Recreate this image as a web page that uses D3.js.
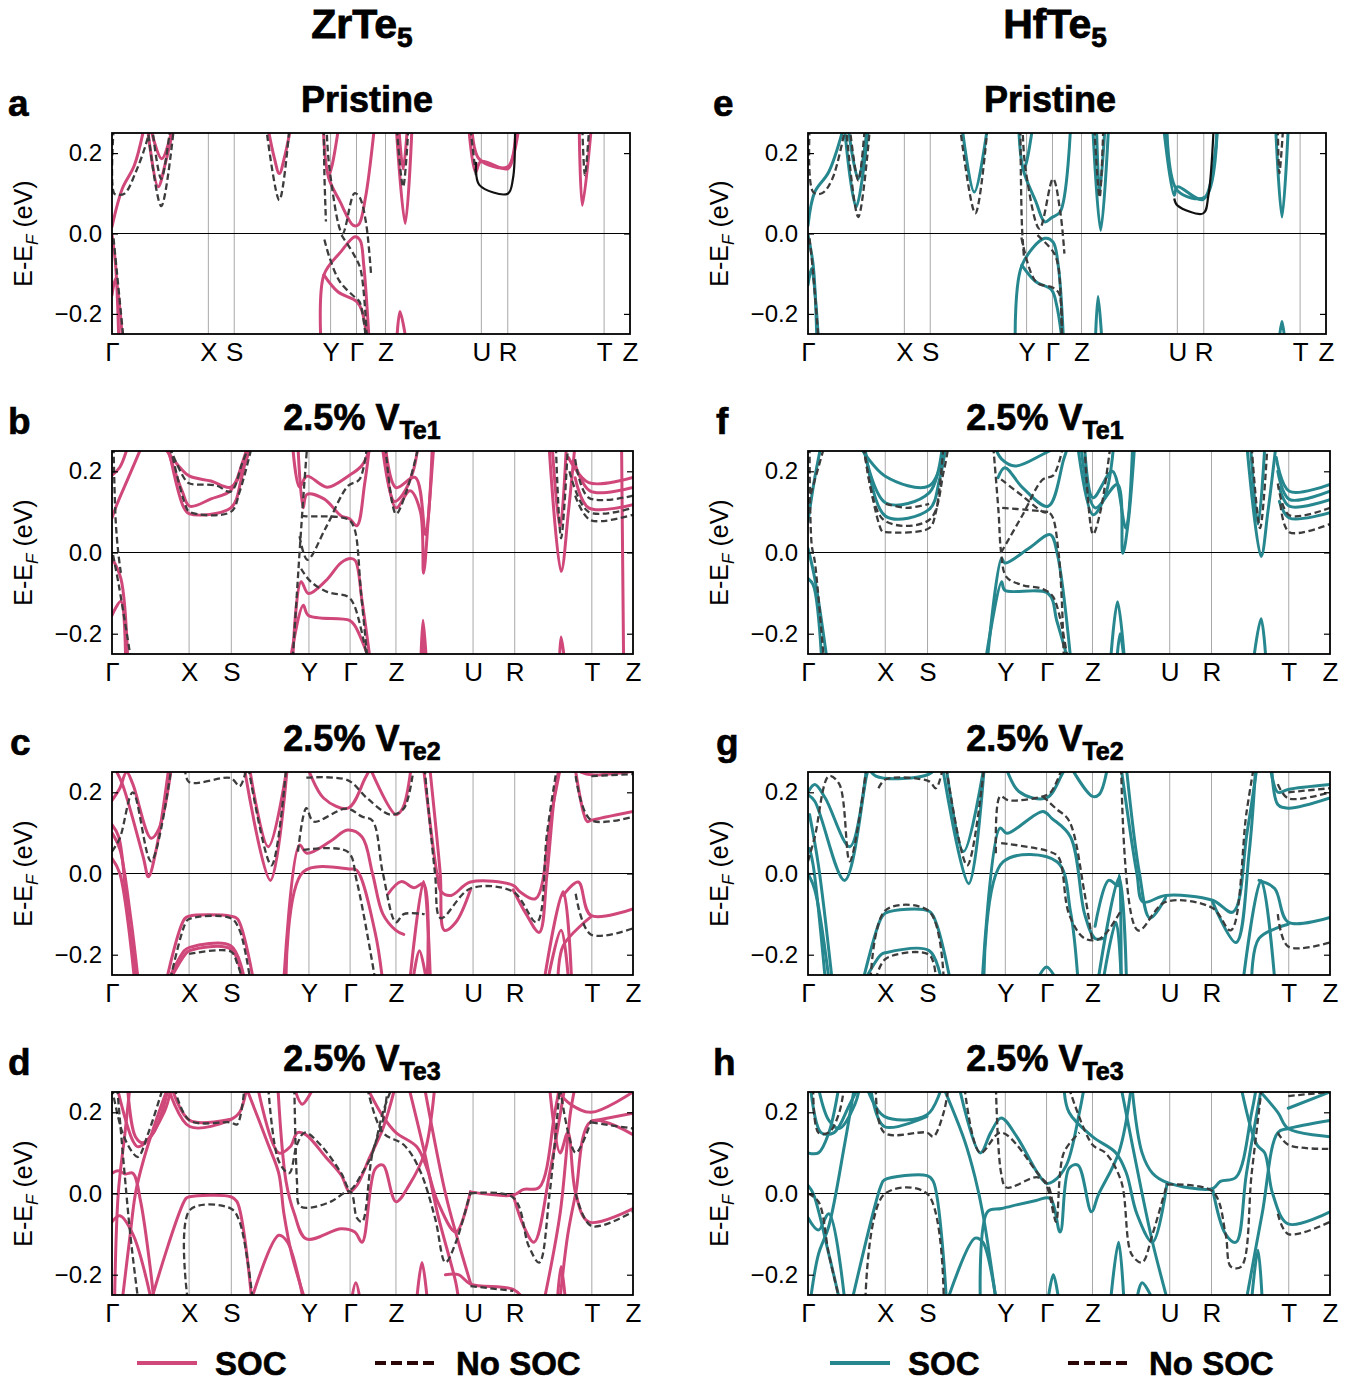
<!DOCTYPE html>
<html><head><meta charset="utf-8">
<script src="https://cdn.jsdelivr.net/npm/d3@7"></script>
<style>body{margin:0;background:#fff}svg{display:block}text{font-family:"Liberation Sans",Arial,Helvetica,sans-serif}</style>
</head><body><svg id="c" width="1366" height="1384"></svg>
<script>
// ---------- shared axis data ----------
const kLabels = ["Γ","X","S","Y","Γ","Z","U","R","T","Z"];
const kTicksPristine = [0,0.186,0.236,0.422,0.472,0.528,0.713,0.764,0.95,1];
const kTicksVac = [0,0.148,0.229,0.378,0.457,0.545,0.693,0.773,0.921,1];
const yTicks = [-0.2,0,0.2];
const eRange = [-0.25,0.25];

// ---------- ZrTe5 pristine (a) ----------
const zrPristineSOC = [
 [[0,0.017],[0.02,0.112],[0.043,0.169],[0.063,0.27]],
 [[0.068,0.27],[0.089,0.116],[0.104,0.18],[0.12,0.27]],
 [[0.075,0.26],[0.096,0.186],[0.118,0.27]],
 [[0.3,0.27],[0.313,0.19],[0.323,0.149],[0.333,0.19],[0.346,0.27]],
 [[0.408,0.26],[0.418,0.14],[0.44,0.08],[0.466,0.02],[0.476,0.022],[0.489,0.087],[0.507,0.27]],
 [[0.437,0.26],[0.425,0.17],[0.418,0.14]],
 [[0.403,-0.26],[0.409,-0.103],[0.442,-0.045],[0.469,-0.008],[0.479,-0.017],[0.486,-0.079],[0.496,-0.26]],
 [[0.409,-0.103],[0.436,-0.145],[0.472,-0.169],[0.482,-0.19],[0.492,-0.26]],
 [[0.55,-0.26],[0.556,-0.194],[0.567,-0.26]],
 [[0.549,0.26],[0.566,0.025],[0.579,0.26]],
 [[0.554,0.26],[0.562,0.16],[0.57,0.26]],
 [[0.689,0.26],[0.702,0.153],[0.712,0.179],[0.764,0.161],[0.775,0.194],[0.785,0.26]],
 [[0.695,0.26],[0.709,0.185],[0.764,0.166],[0.78,0.26]],
 [[0.902,0.26],[0.908,0.07],[0.925,0.26]],
 [[0,-0.004],[0.007,-0.079],[0.013,-0.26]],
 [[0,-0.153],[0.007,-0.112],[0.02,-0.26]]
];
const zrPristineNoSOC = [
 [[0.003,0.26],[0.004,0.1],[0.012,0.096],[0.025,0.1],[0.045,0.15],[0.065,0.22],[0.075,0.27]],
 [[0.068,0.27],[0.095,0.068],[0.12,0.27]],
 [[0.077,0.27],[0.095,0.136],[0.113,0.27]],
 [[0.003,-0.012],[0.01,-0.103],[0.022,-0.26]],
 [[0.297,0.27],[0.323,0.083],[0.343,0.27]],
 [[0.409,0.26],[0.41,0.15],[0.413,0.03]],
 [[0.41,-0.015],[0.42,-0.06],[0.44,-0.12],[0.47,-0.16],[0.478,-0.17],[0.49,-0.26]],
 [[0.414,0.27],[0.42,0.16],[0.445,0.0],[0.468,0.1],[0.478,0.09],[0.49,0.03],[0.5,-0.1]],
 [[0.443,-0.004],[0.468,-0.055],[0.48,-0.09],[0.492,-0.26]],
 [[0.55,0.26],[0.562,0.116],[0.572,0.26]],
 [[0.908,0.26],[0.913,0.145],[0.921,0.26]],
 [[0.692,0.26],[0.703,0.14]]
];
const zrPristineSolid = [
 [[0.703,0.178],[0.709,0.121],[0.764,0.099],[0.774,0.136],[0.778,0.26]]
];

// ---------- HfTe5 pristine (e) ----------
const hfPristineSOC = [
 [[0,0.02],[0.013,0.103],[0.04,0.153],[0.07,0.27]],
 [[0.07,0.27],[0.093,0.066],[0.117,0.27]],
 [[0.077,0.27],[0.097,0.136],[0.115,0.27]],
 [[0.297,0.27],[0.321,0.103],[0.347,0.27]],
 [[0.407,0.26],[0.415,0.161],[0.44,0.079],[0.457,0.029],[0.47,0.039],[0.487,0.054],[0.507,0.27]],
 [[0.433,0.26],[0.42,0.17],[0.415,0.16]],
 [[0.4,-0.26],[0.413,-0.079],[0.457,-0.012],[0.473,-0.021],[0.483,-0.079],[0.493,-0.26]],
 [[0.413,-0.079],[0.44,-0.12],[0.47,-0.14],[0.48,-0.178],[0.49,-0.26]],
 [[0.555,-0.26],[0.56,-0.157],[0.567,-0.26]],
 [[0.55,0.26],[0.565,0.008],[0.58,0.26]],
 [[0.557,0.26],[0.563,0.103],[0.573,0.26]],
 [[0.687,0.26],[0.707,0.095],[0.713,0.116],[0.763,0.085],[0.79,0.26]],
 [[0.693,0.26],[0.713,0.107],[0.767,0.091],[0.79,0.26]],
 [[0.903,0.26],[0.915,0.041],[0.927,0.26]],
 [[0.91,-0.26],[0.915,-0.219],[0.92,-0.26]],
 [[0,-0.004],[0.01,-0.079],[0.017,-0.26]],
 [[0,-0.128],[0.007,-0.087],[0.02,-0.26]]
];
const hfPristineNoSOC = [
 [[0.003,0.26],[0.01,0.103],[0.027,0.1],[0.047,0.136],[0.073,0.27]],
 [[0.073,0.27],[0.097,0.041],[0.12,0.27]],
 [[0.08,0.27],[0.097,0.132],[0.11,0.27]],
 [[0.293,0.27],[0.323,0.05],[0.347,0.27]],
 [[0.41,0.26],[0.413,0.02],[0.417,-0.06]],
 [[0.412,-0.01],[0.44,-0.12],[0.473,-0.135],[0.485,-0.15],[0.49,-0.26]],
 [[0.414,0.27],[0.42,0.16],[0.447,0.012],[0.473,0.136],[0.487,0.054],[0.495,-0.05]],
 [[0.443,-0.004],[0.473,-0.045],[0.483,-0.08],[0.49,-0.26]],
 [[0.553,0.26],[0.563,0.09],[0.57,0.26]],
 [[0.907,0.26],[0.91,0.15],[0.917,0.26]],
 [[0.003,-0.012],[0.01,-0.1],[0.02,-0.26]]
];
const hfPristineSolid = [
 [[0.707,0.087],[0.713,0.07],[0.763,0.05],[0.773,0.095],[0.783,0.26]]
];

// ---------- ZrTe5 V_Te1 (b) ----------
const zrTe1SOC = [
 [[0,0.085],[0.01,0.12],[0.03,0.18],[0.06,0.27]],
 [[0,0.19],[0.015,0.21],[0.03,0.26]],
 [[0.1,0.26],[0.13,0.21],[0.149,0.188],[0.19,0.176],[0.228,0.161],[0.255,0.22],[0.268,0.27]],
 [[0.105,0.26],[0.135,0.15],[0.149,0.114],[0.19,0.132],[0.228,0.153],[0.25,0.22],[0.262,0.27]],
 [[0.108,0.26],[0.138,0.11],[0.149,0.095],[0.228,0.11],[0.248,0.18],[0.262,0.27]],
 [[0.347,0.26],[0.36,0.161],[0.374,0.188],[0.413,0.161],[0.453,0.188],[0.48,0.215],[0.499,0.27]],
 [[0.357,0.26],[0.367,0.11],[0.374,0.143],[0.407,0.132],[0.44,0.09],[0.456,0.083],[0.47,0.066],[0.485,0.17],[0.495,0.27]],
 [[0.347,-0.26],[0.363,-0.072],[0.377,-0.101],[0.41,-0.07],[0.44,-0.025],[0.458,-0.015],[0.467,-0.02],[0.48,-0.12],[0.495,-0.26]],
 [[0.343,-0.26],[0.367,-0.13],[0.377,-0.155],[0.456,-0.167],[0.466,-0.18],[0.493,-0.26]],
 [[0.519,0.26],[0.542,0.126],[0.558,0.143],[0.578,0.2],[0.588,0.27]],
 [[0.522,0.26],[0.545,0.11],[0.572,0.152],[0.592,0.1],[0.598,-0.051],[0.608,0.1],[0.618,0.27]],
 [[0.525,0.26],[0.545,0.16],[0.582,0.185],[0.602,0.044],[0.615,0.27]],
 [[0.593,-0.26],[0.597,-0.167],[0.603,-0.26]],
 [[0.596,-0.26],[0.598,-0.21],[0.601,-0.26]],
 [[0.839,0.26],[0.862,-0.047],[0.876,0.1],[0.889,0.27]],
 [[0.845,0.26],[0.86,0.06],[0.872,0.26]],
 [[0.859,-0.26],[0.862,-0.208],[0.868,-0.26]],
 [[0.876,0.234],[0.915,0.172],[1,0.185]],
 [[0.889,0.217],[0.918,0.151],[1,0.16]],
 [[0.889,0.184],[0.915,0.11],[1,0.118]],
 [[0.978,0.27],[0.982,-0.27]],
 [[0,-0.014],[0.017,-0.064],[0.03,-0.26]],
 [[0,-0.155],[0.017,-0.12],[0.026,-0.26]]
];
const zrTe1NoSOC = [
 [[0.002,-0.006],[0.013,-0.08],[0.036,-0.26]],
 [[0.003,0.26],[0.007,0.08],[0.012,0.0],[0.017,-0.05]],
 [[0.11,0.26],[0.14,0.18],[0.149,0.17],[0.2,0.165],[0.228,0.15],[0.25,0.22],[0.265,0.27]],
 [[0.112,0.26],[0.14,0.12],[0.149,0.1],[0.228,0.1],[0.245,0.15],[0.27,0.27]],
 [[0.347,-0.26],[0.36,0.0],[0.368,0.15],[0.375,0.27]],
 [[0.36,0.04],[0.375,-0.018],[0.41,0.06],[0.453,0.164],[0.475,0.18],[0.49,0.27]],
 [[0.363,0.09],[0.375,0.089],[0.453,0.082],[0.465,0.06],[0.478,-0.1],[0.49,-0.26]],
 [[0.363,-0.04],[0.38,-0.07],[0.413,-0.097],[0.453,-0.109],[0.465,-0.13],[0.49,-0.26]],
 [[0.525,0.26],[0.545,0.095],[0.565,0.15],[0.59,0.27]],
 [[0.852,0.26],[0.862,0.035],[0.875,0.26]],
 [[0.878,0.2],[0.915,0.1],[1,0.11]],
 [[0.889,0.14],[0.918,0.08],[1,0.093]],
 [[0.889,0.23],[0.915,0.135],[1,0.14]]
];

// ---------- HfTe5 V_Te1 (f) ----------
const hfTe1SOC = [
 [[0,0.077],[0.013,0.184],[0.026,0.27]],
 [[0.1,0.26],[0.148,0.188],[0.232,0.164],[0.265,0.27]],
 [[0.106,0.26],[0.149,0.122],[0.232,0.147],[0.258,0.27]],
 [[0.109,0.26],[0.149,0.089],[0.232,0.106],[0.252,0.18],[0.265,0.27]],
 [[0.358,0.26],[0.371,0.23],[0.397,0.213],[0.45,0.242],[0.49,0.27]],
 [[0.364,0.184],[0.377,0.209],[0.411,0.16],[0.46,0.114],[0.49,0.23],[0.5,0.27]],
 [[0.344,-0.26],[0.371,-0.014],[0.377,-0.026],[0.424,0.011],[0.464,0.044],[0.477,0.0],[0.503,-0.26]],
 [[0.341,-0.26],[0.371,-0.072],[0.377,-0.093],[0.46,-0.101],[0.477,-0.17],[0.497,-0.26]],
 [[0.517,0.26],[0.546,0.093],[0.57,0.143],[0.586,0.27]],
 [[0.523,0.26],[0.55,0.11],[0.593,0.168],[0.603,-0.002],[0.613,0.07],[0.626,0.27]],
 [[0.53,0.26],[0.546,0.135],[0.583,0.2],[0.609,0.06],[0.622,0.27]],
 [[0.58,-0.26],[0.593,-0.121],[0.606,-0.26]],
 [[0.592,-0.26],[0.598,-0.2],[0.605,-0.26]],
 [[0.841,0.26],[0.868,-0.01],[0.881,0.1],[0.897,0.27]],
 [[0.848,0.26],[0.862,0.07],[0.875,0.26]],
 [[0.854,-0.26],[0.868,-0.163],[0.877,-0.26]],
 [[0.897,0.234],[0.922,0.151],[1,0.168]],
 [[0.9,0.2],[0.922,0.131],[1,0.151]],
 [[0.903,0.16],[0.922,0.114],[1,0.13]],
 [[0.903,0.126],[0.922,0.085],[1,0.098]],
 [[0,0.01],[0.013,-0.064],[0.036,-0.26]],
 [[0,-0.064],[0.01,-0.08],[0.026,-0.26]]
];
const hfTe1NoSOC = [
 [[0.003,0.26],[0.007,0.02],[0.013,-0.022],[0.03,-0.26]],
 [[0,0.12],[0.02,0.21],[0.033,0.27]],
 [[0.106,0.26],[0.142,0.052],[0.149,0.05],[0.232,0.06],[0.245,0.1],[0.26,0.27]],
 [[0.108,0.26],[0.145,0.08],[0.232,0.08],[0.26,0.2],[0.27,0.27]],
 [[0.149,0.12],[0.19,0.11],[0.232,0.12]],
 [[0.355,0.26],[0.365,0.1],[0.37,0.0],[0.38,-0.06],[0.41,-0.08],[0.45,-0.09],[0.47,-0.11],[0.497,-0.26]],
 [[0.37,0.0],[0.41,0.09],[0.45,0.18],[0.47,0.19],[0.49,0.27]],
 [[0.37,0.18],[0.41,0.14],[0.45,0.1],[0.465,0.095],[0.48,0.0],[0.49,-0.26]],
 [[0.372,0.11],[0.42,0.105],[0.46,0.1]],
 [[0.53,0.26],[0.546,0.045],[0.56,0.1],[0.58,0.27]],
 [[0.9,0.17],[0.922,0.092],[1,0.11]],
 [[0.905,0.12],[0.922,0.05],[1,0.07]],
 [[0.85,0.26],[0.866,0.06],[0.88,0.26]]
];

// ---------- ZrTe5 V_Te2 (c) ----------
const zrTe2SOC = [
 [[0,0.12],[0.013,0.09],[0.03,-0.1],[0.048,-0.26]],
 [[0,0.1],[0.015,0.06],[0.035,-0.1],[0.05,-0.26]],
 [[0,0.037],[0.015,0.0],[0.043,-0.26]],
 [[0,0.18],[0.015,0.21],[0.028,0.25],[0.04,0.22],[0.075,0.087],[0.09,0.11],[0.115,0.27]],
 [[0.005,0.26],[0.02,0.22],[0.06,0.04],[0.07,-0.008],[0.085,0.06],[0.11,0.27]],
 [[0.105,-0.26],[0.139,-0.112],[0.148,-0.105],[0.228,-0.105],[0.241,-0.112],[0.271,-0.26]],
 [[0.109,-0.26],[0.139,-0.19],[0.149,-0.182],[0.228,-0.178],[0.254,-0.26]],
 [[0.112,-0.26],[0.14,-0.2],[0.149,-0.19],[0.228,-0.186],[0.25,-0.26]],
 [[0.254,0.26],[0.304,-0.017],[0.337,0.27]],
 [[0.264,0.26],[0.3,0.066],[0.337,0.27]],
 [[0.33,-0.26],[0.36,0.07],[0.374,0.05],[0.42,0.08],[0.452,0.107],[0.48,0.09],[0.5,0.0],[0.52,-0.1],[0.545,-0.14],[0.56,-0.15]],
 [[0.334,-0.26],[0.367,0.004],[0.457,0.011],[0.47,0.008],[0.505,-0.145],[0.519,-0.26]],
 [[0.373,0.27],[0.406,0.186],[0.453,0.161],[0.486,0.235],[0.5,0.27]],
 [[0.492,0.27],[0.545,0.145],[0.558,0.161],[0.575,0.27]],
 [[0.53,-0.05],[0.555,-0.02],[0.58,-0.035],[0.598,-0.025],[0.605,-0.26]],
 [[0.598,0.26],[0.625,-0.01],[0.632,-0.045],[0.651,-0.054],[0.688,-0.021],[0.77,-0.029],[0.783,-0.045],[0.813,-0.062],[0.843,0.145],[0.862,0.27]],
 [[0.61,0.26],[0.63,0.0],[0.638,-0.14],[0.66,-0.12],[0.688,-0.04]],
 [[0.77,-0.04],[0.795,-0.1],[0.82,-0.145],[0.835,0.0],[0.85,0.2],[0.86,0.27]],
 [[0.866,-0.054],[0.895,-0.021],[0.919,-0.103],[1,-0.087]],
 [[0.856,-0.26],[0.866,-0.178],[0.919,-0.107]],
 [[0.889,0.26],[0.912,0.128],[0.919,0.131],[1,0.153]],
 [[0.9,0.25],[0.92,0.243],[1,0.252]],
 [[0.572,-0.26],[0.598,-0.02],[0.611,-0.26]],
 [[0.578,-0.26],[0.59,-0.19],[0.603,-0.26]],
 [[0.83,-0.26],[0.866,-0.045],[0.882,-0.26]],
 [[0.837,-0.26],[0.862,-0.14],[0.876,-0.26]]
];
const zrTe2NoSOC = [
 [[0,0.054],[0.015,0.087],[0.04,0.2],[0.075,0.03],[0.115,0.27]],
 [[0.14,0.26],[0.148,0.225],[0.228,0.235],[0.245,0.215],[0.26,0.27]],
 [[0.112,-0.26],[0.14,-0.125],[0.148,-0.112],[0.228,-0.11],[0.245,-0.14],[0.265,-0.26]],
 [[0.148,-0.198],[0.228,-0.192],[0.24,-0.22],[0.25,-0.26]],
 [[0.262,0.26],[0.306,0.02],[0.335,0.27]],
 [[0.357,0.054],[0.373,0.161],[0.387,0.128],[0.45,0.16],[0.48,0.14],[0.5,0.13],[0.52,0.0],[0.545,-0.12],[0.56,-0.1],[0.6,-0.1]],
 [[0.367,0.058],[0.452,0.054],[0.47,-0.02],[0.505,-0.26]],
 [[0.373,0.236],[0.452,0.23],[0.49,0.185],[0.535,0.145],[0.56,0.16],[0.58,0.27]],
 [[0.6,0.26],[0.62,0.0],[0.631,-0.11],[0.688,-0.037],[0.77,-0.045],[0.815,-0.12],[0.835,0.1],[0.855,0.27]],
 [[0.89,-0.05],[0.919,-0.15],[1,-0.135]],
 [[0.89,0.24],[0.919,0.132],[1,0.14]],
 [[0.92,0.24],[1,0.245]]
];

// ---------- HfTe5 V_Te2 (g) ----------
const hfTe2SOC = [
 [[0.003,0.062],[0.01,0.02],[0.033,-0.26]],
 [[0.003,0.145],[0.02,0.02],[0.046,-0.26]],
 [[0,0.0],[0.013,-0.04],[0.04,-0.26]],
 [[0,0.2],[0.013,0.219],[0.033,0.186],[0.08,0.066],[0.113,0.27]],
 [[0,0.194],[0.013,0.178],[0.07,-0.017],[0.112,0.24],[0.118,0.27]],
 [[0.106,-0.26],[0.14,-0.11],[0.149,-0.097],[0.232,-0.093],[0.245,-0.12],[0.272,-0.26]],
 [[0.11,-0.26],[0.14,-0.2],[0.149,-0.195],[0.232,-0.19],[0.255,-0.26]],
 [[0.112,0.27],[0.13,0.24],[0.232,0.245],[0.25,0.27]],
 [[0.258,0.26],[0.308,-0.025],[0.338,0.27]],
 [[0.265,0.26],[0.298,0.054],[0.338,0.27]],
 [[0.334,-0.26],[0.368,0.112],[0.381,0.099],[0.45,0.153],[0.467,0.136],[0.503,0.09],[0.53,-0.1],[0.55,-0.16],[0.565,-0.16]],
 [[0.337,-0.26],[0.374,0.029],[0.477,0.029],[0.503,-0.095],[0.517,-0.26]],
 [[0.377,0.27],[0.404,0.202],[0.457,0.186],[0.49,0.252],[0.5,0.27]],
 [[0.5,0.27],[0.545,0.19],[0.558,0.195],[0.575,0.27]],
 [[0.6,0.26],[0.63,0.0],[0.642,-0.07],[0.685,-0.054],[0.775,-0.066],[0.814,-0.095],[0.841,0.1],[0.861,0.27]],
 [[0.61,0.26],[0.635,0.0],[0.655,-0.11],[0.685,-0.06]],
 [[0.775,-0.07],[0.82,-0.17],[0.845,0.05],[0.858,0.27]],
 [[0.55,-0.13],[0.576,-0.017],[0.594,-0.03],[0.597,-0.005],[0.6,-0.26]],
 [[0.556,-0.26],[0.596,-0.01],[0.61,-0.26]],
 [[0.566,-0.26],[0.59,-0.12],[0.6,-0.26]],
 [[0.834,-0.26],[0.868,-0.017],[0.894,-0.26]],
 [[0.864,-0.017],[0.894,-0.037],[0.92,-0.12],[1,-0.108]],
 [[0.85,-0.26],[0.864,-0.16],[0.92,-0.125]],
 [[0.885,0.27],[0.9,0.2],[0.92,0.207],[1,0.219]],
 [[0.888,0.27],[0.9,0.17],[0.92,0.161],[1,0.186]],
 [[0.44,-0.26],[0.457,-0.23],[0.475,-0.26]]
];
const hfTe2NoSOC = [
 [[0,0.03],[0.013,0.09],[0.04,0.24],[0.06,0.22],[0.08,0.03],[0.113,0.27]],
 [[0.135,0.21],[0.149,0.232],[0.232,0.227],[0.245,0.21],[0.26,0.27]],
 [[0.12,-0.26],[0.149,-0.09],[0.232,-0.093],[0.26,-0.26]],
 [[0.13,-0.26],[0.149,-0.21],[0.232,-0.2],[0.245,-0.26]],
 [[0.265,0.26],[0.305,0.02],[0.338,0.27]],
 [[0.36,0.05],[0.368,0.19],[0.385,0.18],[0.45,0.19],[0.465,0.2],[0.49,0.27]],
 [[0.37,0.075],[0.46,0.055],[0.48,0.04],[0.5,-0.1],[0.53,-0.16],[0.56,-0.16],[0.6,-0.09]],
 [[0.45,0.19],[0.475,0.16],[0.5,0.13],[0.53,-0.05],[0.545,-0.17]],
 [[0.6,0.26],[0.632,-0.14],[0.685,-0.07],[0.775,-0.085],[0.81,-0.14],[0.84,0.15],[0.855,0.27]],
 [[0.9,-0.1],[0.92,-0.18],[1,-0.17]],
 [[0.9,0.22],[0.92,0.185],[1,0.2]],
 [[0.92,0.2],[1,0.21]]
];

// ---------- ZrTe5 V_Te3 (d) ----------
const zrTe3SOC = [
 [[0.076,-0.26],[0.142,-0.012],[0.149,-0.008],[0.228,-0.008],[0.24,-0.02],[0.268,-0.26]],
 [[0.108,0.26],[0.149,0.165],[0.228,0.182],[0.245,0.2],[0.26,0.27]],
 [[0.115,0.26],[0.149,0.18],[0.228,0.183]],
 [[0,0.05],[0.012,0.056],[0.025,0.048],[0.04,0.05],[0.055,-0.02],[0.075,-0.2],[0.08,-0.26]],
 [[0.01,0.26],[0.04,0.13],[0.05,0.115],[0.08,0.15],[0.11,0.27]],
 [[0.03,0.26],[0.045,0.14],[0.06,0.125],[0.1,0.2],[0.115,0.27]],
 [[0,-0.07],[0.015,-0.055],[0.04,-0.1],[0.075,-0.26]],
 [[0.005,-0.26],[0.012,0.0],[0.025,0.15],[0.035,0.27]],
 [[0.02,-0.26],[0.035,-0.1],[0.045,0.0],[0.06,0.08],[0.09,0.2],[0.11,0.27]],
 [[0.258,0.26],[0.3,0.12],[0.32,0.05],[0.33,-0.05],[0.345,-0.15],[0.37,-0.26]],
 [[0.28,0.26],[0.32,0.1],[0.342,0.115],[0.356,0.15],[0.372,0.145],[0.41,0.09],[0.44,0.045],[0.456,0.004],[0.47,0.02],[0.495,0.09],[0.52,0.16],[0.545,0.27]],
 [[0.268,-0.26],[0.32,-0.103],[0.337,-0.12],[0.367,-0.26]],
 [[0.318,0.27],[0.334,0.03],[0.35,-0.05],[0.373,-0.112],[0.44,-0.087],[0.466,-0.095],[0.48,-0.12],[0.505,0.06],[0.52,0.07],[0.545,-0.02],[0.57,0.02],[0.6,0.1],[0.62,0.27]],
 [[0.35,0.26],[0.365,0.22],[0.378,0.24],[0.39,0.27]],
 [[0.49,0.26],[0.52,0.19],[0.545,0.15],[0.585,0.115],[0.605,0.06],[0.625,-0.02],[0.66,-0.095],[0.688,0.004]],
 [[0.688,0.004],[0.77,-0.004],[0.79,0.01],[0.82,0.015],[0.85,0.2],[0.86,0.27]],
 [[0.64,-0.2],[0.665,-0.2],[0.688,-0.223],[0.77,-0.236],[0.79,-0.26]],
 [[0.77,-0.004],[0.79,-0.08],[0.81,-0.12],[0.84,0.05],[0.87,0.27]],
 [[0.6,0.26],[0.64,0.0],[0.665,-0.12],[0.688,-0.22]],
 [[0.57,0.26],[0.6,0.1],[0.625,-0.05],[0.66,-0.22],[0.665,-0.26]],
 [[0.84,0.26],[0.86,0.1],[0.875,0.15],[0.89,0.0],[0.915,-0.07],[1,-0.037]],
 [[0.86,-0.26],[0.875,-0.1],[0.89,0.0],[0.92,0.178],[1,0.145]],
 [[0.85,0.26],[0.88,0.22],[0.92,0.2],[1,0.25]],
 [[0.92,0.178],[1,0.198]],
 [[0.83,-0.26],[0.86,-0.05],[0.88,0.2],[0.89,0.27]],
 [[0.585,-0.26],[0.595,-0.17],[0.605,-0.26]],
 [[0.46,-0.26],[0.468,-0.22],[0.476,-0.26]],
 [[0.855,-0.26],[0.862,-0.18],[0.87,-0.26]]
];
const zrTe3NoSOC = [
 [[0.145,-0.26],[0.15,-0.04],[0.228,-0.037],[0.245,-0.07],[0.27,-0.26]],
 [[0.12,0.26],[0.149,0.18],[0.228,0.175],[0.24,0.17],[0.255,0.27]],
 [[0,0.26],[0.02,0.15],[0.04,0.1],[0.05,0.09],[0.07,0.15],[0.1,0.27]],
 [[0.01,0.26],[0.035,-0.1],[0.05,-0.26]],
 [[0.3,0.26],[0.32,0.08],[0.34,0.05],[0.355,0.12],[0.37,0.15],[0.4,0.12],[0.44,0.05],[0.457,0.01],[0.48,0.05],[0.5,0.1],[0.52,0.2],[0.54,0.27]],
 [[0.35,0.26],[0.355,0.03],[0.36,-0.03],[0.38,-0.035],[0.42,-0.02],[0.457,0.005],[0.47,-0.06],[0.48,-0.07],[0.5,0.1],[0.52,0.18],[0.53,0.27]],
 [[0.49,0.26],[0.52,0.15],[0.56,0.12],[0.59,0.06],[0.62,-0.06],[0.64,-0.17],[0.66,-0.12],[0.688,0.004]],
 [[0.688,0.0],[0.77,-0.01],[0.8,-0.13],[0.82,-0.17],[0.84,0.0],[0.86,0.27]],
 [[0.688,-0.228],[0.77,-0.24]],
 [[0.89,0.0],[0.92,-0.08],[1,-0.045]],
 [[0.92,0.175],[1,0.16]],
 [[0.86,0.26],[0.89,0.1],[0.92,0.18]]
];

// ---------- HfTe5 V_Te3 (h) ----------
const hfTe3SOC = [
 [[0.085,-0.26],[0.14,0.02],[0.146,0.033],[0.228,0.044],[0.24,0.03],[0.265,-0.26]],
 [[0.113,0.26],[0.146,0.19],[0.228,0.194],[0.258,0.27]],
 [[0.12,0.26],[0.146,0.165],[0.228,0.19]],
 [[0,0.02],[0.01,0.0],[0.04,-0.15],[0.06,-0.26]],
 [[0,0.1],[0.02,0.1],[0.04,0.15],[0.06,0.27]],
 [[0.005,0.26],[0.025,0.15],[0.05,0.15],[0.08,0.22],[0.1,0.27]],
 [[0,-0.06],[0.02,-0.09],[0.04,-0.05],[0.07,-0.26]],
 [[0.005,-0.26],[0.02,-0.15],[0.04,-0.08],[0.07,0.12],[0.09,0.27]],
 [[0.02,0.26],[0.04,0.18],[0.06,0.16],[0.09,0.22],[0.1,0.27]],
 [[0.26,0.26],[0.3,0.13],[0.32,0.04],[0.335,-0.05],[0.36,-0.26]],
 [[0.268,-0.26],[0.32,-0.11],[0.335,-0.12],[0.36,-0.26]],
 [[0.29,0.26],[0.33,0.1],[0.35,0.15],[0.37,0.186],[0.4,0.14],[0.44,0.05],[0.457,0.025],[0.47,0.03],[0.495,0.07],[0.52,0.2],[0.53,0.27]],
 [[0.33,-0.26],[0.344,-0.045],[0.371,-0.037],[0.437,-0.017],[0.464,-0.012],[0.483,-0.095],[0.5,0.062],[0.517,0.07],[0.543,-0.045],[0.556,-0.004],[0.596,0.103],[0.62,0.27]],
 [[0.49,0.27],[0.5,0.2],[0.545,0.14],[0.59,0.1],[0.61,0.05],[0.63,-0.05],[0.66,-0.12],[0.688,0.027]],
 [[0.62,0.27],[0.64,0.1],[0.66,0.05],[0.688,0.027],[0.775,0.012],[0.79,0.03],[0.82,0.04],[0.85,0.2],[0.86,0.27]],
 [[0.775,0.012],[0.8,-0.1],[0.82,-0.12],[0.84,0.05],[0.87,0.27]],
 [[0.6,0.26],[0.64,0.0],[0.66,-0.12],[0.688,-0.26]],
 [[0.46,-0.26],[0.47,-0.2],[0.48,-0.26]],
 [[0.58,-0.26],[0.595,-0.12],[0.605,-0.26]],
 [[0.85,-0.26],[0.862,-0.14],[0.87,-0.26]],
 [[0.63,-0.26],[0.64,-0.22],[0.66,-0.26]],
 [[0.83,0.26],[0.86,0.12],[0.875,0.1],[0.89,0.0],[0.92,-0.075],[1,-0.045]],
 [[0.84,-0.26],[0.87,-0.05],[0.9,0.15],[0.92,0.16],[1,0.18]],
 [[0.86,0.26],[0.9,0.2],[0.92,0.16],[1,0.14]],
 [[0.92,0.21],[1,0.25]]
];
const hfTe3NoSOC = [
 [[0.11,-0.26],[0.146,-0.002],[0.228,0.0],[0.26,-0.26]],
 [[0.13,0.26],[0.146,0.15],[0.228,0.15],[0.24,0.14],[0.26,0.2],[0.27,0.27]],
 [[0.36,0.26],[0.37,0.05],[0.38,0.015],[0.44,0.04],[0.46,0.02],[0.475,-0.07],[0.49,0.1],[0.52,0.15]],
 [[0.3,0.26],[0.33,0.1],[0.37,0.15],[0.44,0.05],[0.457,0.02],[0.47,-0.05]],
 [[0.5,0.26],[0.545,0.12],[0.57,0.1],[0.6,0.03],[0.62,-0.15],[0.64,-0.17],[0.66,-0.1],[0.688,0.025]],
 [[0.688,0.022],[0.775,0.005],[0.8,-0.1],[0.81,-0.18],[0.83,-0.18],[0.85,0.05],[0.87,0.27]],
 [[0.9,-0.05],[0.92,-0.1],[1,-0.07]],
 [[0.9,0.15],[0.92,0.12],[1,0.11]],
 [[0.92,0.24],[1,0.25]],
 [[0.01,0.26],[0.02,0.15],[0.04,0.15],[0.06,0.2],[0.07,0.27]],
 [[0,0.0],[0.02,-0.02],[0.04,-0.15],[0.06,-0.26]]
];

// ---------- layout / styling ----------
const colZr = "#D0477A", colHf = "#26878F", colDash = "#3c3c3c";
const panels = [
 {id:"a",title:"Pristine",sub:null,x0:112,x1:630,y0:133,y1:334,ticks:kTicksPristine,soc:zrPristineSOC,nosoc:zrPristineNoSOC,solid:zrPristineSolid,color:colZr,lx:8,tcx:367},
 {id:"b",title:"2.5% V",sub:"Te1",x0:112,x1:633,y0:451,y1:654,ticks:kTicksVac,soc:zrTe1SOC,nosoc:zrTe1NoSOC,solid:[],color:colZr,lx:8,tcx:362},
 {id:"c",title:"2.5% V",sub:"Te2",x0:112,x1:633,y0:772,y1:975,ticks:kTicksVac,soc:zrTe2SOC,nosoc:zrTe2NoSOC,solid:[],color:colZr,lx:10,tcx:362},
 {id:"d",title:"2.5% V",sub:"Te3",x0:112,x1:633,y0:1092,y1:1295,ticks:kTicksVac,soc:zrTe3SOC,nosoc:zrTe3NoSOC,solid:[],color:colZr,lx:8,tcx:362},
 {id:"e",title:"Pristine",sub:null,x0:808,x1:1326,y0:133,y1:334,ticks:kTicksPristine,soc:hfPristineSOC,nosoc:hfPristineNoSOC,solid:hfPristineSolid,color:colHf,lx:713,tcx:1050},
 {id:"f",title:"2.5% V",sub:"Te1",x0:808,x1:1330,y0:451,y1:654,ticks:kTicksVac,soc:hfTe1SOC,nosoc:hfTe1NoSOC,solid:[],color:colHf,lx:716,tcx:1045},
 {id:"g",title:"2.5% V",sub:"Te2",x0:808,x1:1330,y0:772,y1:975,ticks:kTicksVac,soc:hfTe2SOC,nosoc:hfTe2NoSOC,solid:[],color:colHf,lx:716,tcx:1045},
 {id:"h",title:"2.5% V",sub:"Te3",x0:808,x1:1330,y0:1092,y1:1295,ticks:kTicksVac,soc:hfTe3SOC,nosoc:hfTe3NoSOC,solid:[],color:colHf,lx:713,tcx:1045}
];

const svg = d3.select("#c");
const defs = svg.append("defs");

function drawPanel(p){
  const x = d3.scaleLinear().domain([0,1]).range([p.x0,p.x1]);
  const y = d3.scaleLinear().domain(eRange).range([p.y1,p.y0]);
  const g = svg.append("g");
  defs.append("clipPath").attr("id","clip"+p.id).append("rect")
    .attr("x",p.x0).attr("y",p.y0).attr("width",p.x1-p.x0).attr("height",p.y1-p.y0);
  g.selectAll("line.v").data(p.ticks.slice(1,-1)).join("line")
    .attr("x1",d=>x(d)).attr("x2",d=>x(d)).attr("y1",p.y0).attr("y2",p.y1)
    .attr("stroke","#a8a8a8").attr("stroke-width",1);
  g.append("line").attr("x1",p.x0).attr("x2",p.x1).attr("y1",y(0)).attr("y2",y(0))
    .attr("stroke","#000").attr("stroke-width",1);
  const line = d3.line().x(d=>x(d[0])).y(d=>y(d[1])).curve(d3.curveCatmullRom.alpha(0.5));
  const bands = g.append("g").attr("clip-path","url(#clip"+p.id+")");
  bands.selectAll("path.soc").data(p.soc).join("path").attr("class","soc")
    .attr("d",line).attr("fill","none").attr("stroke",p.color).attr("stroke-width",3)
    .attr("stroke-linejoin","round").attr("stroke-linecap","round");
  bands.selectAll("path.nosoc").data(p.nosoc).join("path").attr("class","nosoc")
    .attr("d",line).attr("fill","none").attr("stroke",colDash).attr("stroke-width",2.3)
    .attr("stroke-dasharray","6.5,3.5");
  bands.selectAll("path.solid").data(p.solid).join("path").attr("class","solid")
    .attr("d",line).attr("fill","none").attr("stroke","#111").attr("stroke-width",2.2);
  g.append("rect").attr("x",p.x0).attr("y",p.y0).attr("width",p.x1-p.x0).attr("height",p.y1-p.y0)
    .attr("fill","none").attr("stroke","#000").attr("stroke-width",1.8);
  const ya = g.append("g").attr("transform",`translate(${p.x0},0)`)
    .call(d3.axisLeft(y).tickValues(yTicks).tickSize(-6).tickPadding(10).tickFormat(d3.format(".1f")));
  ya.select(".domain").remove();
  ya.selectAll("text").attr("font-size",24).attr("fill","#000");
  ya.selectAll("line").attr("stroke","#000").attr("stroke-width",1.2);
  const yr = g.append("g").attr("transform",`translate(${p.x1},0)`)
    .call(d3.axisRight(y).tickValues(yTicks).tickSize(-6).tickFormat(""));
  yr.select(".domain").remove();
  yr.selectAll("line").attr("stroke","#000").attr("stroke-width",1.2);
  const xa = g.append("g").attr("transform",`translate(0,${p.y1})`)
    .call(d3.axisBottom(x).tickValues(p.ticks).tickSize(0).tickPadding(9).tickFormat((d,i)=>kLabels[i]));
  xa.select(".domain").remove();
  xa.selectAll("text").attr("font-size",26).attr("fill","#000");
  const yl = g.append("text").attr("transform",`translate(${p.x0-80},${(p.y0+p.y1)/2}) rotate(-90)`)
    .attr("text-anchor","middle").attr("font-size",25).attr("fill","#000");
  yl.append("tspan").text("E-E");
  yl.append("tspan").attr("font-style","italic").attr("font-size",17).attr("dy",6).text("F");
  yl.append("tspan").attr("dy",-6).text(" (eV)");
  g.append("text").attr("x",p.lx).attr("y",p.y0-17).attr("font-size",37).attr("font-weight","bold")
    .attr("stroke","#000").attr("stroke-width",0.6).text(p.id);
  const t = g.append("text").attr("x",p.tcx).attr("y",p.y0-21).attr("text-anchor","middle")
    .attr("font-size",36).attr("font-weight","bold").attr("stroke","#000").attr("stroke-width",0.7);
  t.append("tspan").text(p.title);
  if(p.sub){ t.append("tspan").attr("font-size",25).attr("dy",9).text(p.sub); }
}
panels.forEach(drawPanel);

const headers = [{name:"ZrTe",sub:"5",cx:362},{name:"HfTe",sub:"5",cx:1055}];
headers.forEach(h=>{
  const t = svg.append("text").attr("x",h.cx).attr("y",38).attr("text-anchor","middle")
    .attr("font-size",41).attr("font-weight","bold").attr("stroke","#000").attr("stroke-width",0.8);
  t.append("tspan").text(h.name);
  t.append("tspan").attr("font-size",28).attr("dy",9).text(h.sub);
});

const legends = [{x:137,color:colZr},{x:830,color:colHf}];
legends.forEach(l=>{
  const ly = 1363;
  svg.append("line").attr("x1",l.x).attr("x2",l.x+60).attr("y1",ly).attr("y2",ly)
    .attr("stroke",l.color).attr("stroke-width",3.8);
  svg.append("text").attr("x",l.x+78).attr("y",ly+12).attr("font-size",33).attr("font-weight","bold")
    .attr("stroke","#000").attr("stroke-width",0.6).text("SOC");
  svg.append("line").attr("x1",l.x+238).attr("x2",l.x+300).attr("y1",ly).attr("y2",ly)
    .attr("stroke","#2a0606").attr("stroke-width",3.8).attr("stroke-dasharray","11,5");
  svg.append("text").attr("x",l.x+319).attr("y",ly+12).attr("font-size",33).attr("font-weight","bold")
    .attr("stroke","#000").attr("stroke-width",0.6).text("No SOC");
});
</script></body></html>
